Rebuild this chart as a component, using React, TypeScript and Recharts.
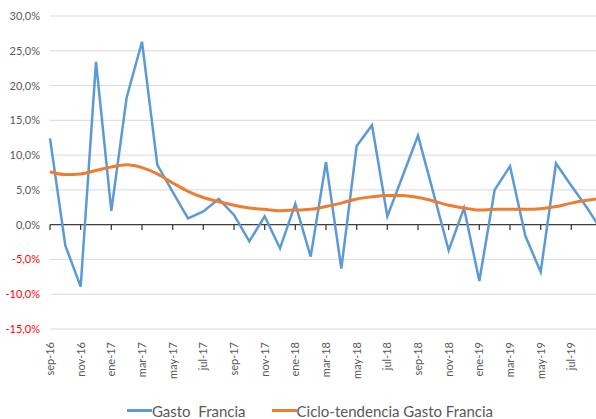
import {
  LineChart, Line, XAxis, YAxis, CartesianGrid, ReferenceLine, Legend,
} from 'recharts'

const months = [
  'sep-16', 'oct-16', 'nov-16', 'dic-16', 'ene-17', 'feb-17', 'mar-17', 'abr-17', 'may-17', 'jun-17', 'jul-17', 'ago-17',
  'sep-17', 'oct-17', 'nov-17', 'dic-17', 'ene-18', 'feb-18', 'mar-18', 'abr-18', 'may-18', 'jun-18', 'jul-18', 'ago-18',
  'sep-18', 'oct-18', 'nov-18', 'dic-18', 'ene-19', 'feb-19', 'mar-19', 'abr-19', 'may-19', 'jun-19', 'jul-19', 'ago-19',
  'sep-19',
]

const gasto = [
  12.4, -3.0, -8.9, 23.4, 2.0, 18.3, 26.3, 8.6, 4.7, 0.9, 1.9, 3.7,
  1.4, -2.4, 1.2, -3.4, 3.0, -4.6, 9.0, -6.3, 11.3, 14.3, 1.2, 7.0,
  12.8, 4.6, -3.7, 2.4, -8.1, 5.0, 8.4, -1.6, -6.8, 8.8, 5.6, 2.5,
  -0.9,
]

const ciclo = [
  7.6, 7.2, 7.3, 7.8, 8.3, 8.6, 8.2, 7.3, 6.0, 4.8, 3.9, 3.3,
  2.8, 2.4, 2.2, 2.0, 2.1, 2.2, 2.6, 3.1, 3.7, 4.0, 4.2, 4.2,
  3.9, 3.4, 2.8, 2.4, 2.1, 2.2, 2.2, 2.2, 2.3, 2.6, 3.1, 3.5,
  3.8,
]

const yTicks = [-15, -10, -5, 0, 5, 10, 15, 20, 25, 30]

const seriesNames = ['Gasto  Francia', 'Ciclo-tendencia Gasto Francia']
const seriesColors = ['#5b9bd5', '#ed7d31']

const data = months.map((m, i) => ({ m, gasto: gasto[i], ciclo: ciclo[i] }))

const FONT = 'Lato, "Liberation Sans", sans-serif'
const TEXT = '#595959'

const fmtPct = (v: number) => v.toFixed(1).replace('.', ',') + '%'

function YTick({ x, y, payload }: any) {
  return (
    <text x={x} y={y} dy={4} textAnchor="end" fontFamily={FONT} fontSize={11}
      fill={payload.value < 0 ? '#ff0000' : TEXT}>
      {fmtPct(payload.value)}
    </text>
  )
}

function XTick({ x, y, payload }: any) {
  // last month falls just outside the visible crop
  if (payload.value === months[months.length - 1]) return null
  const tx = x + 4
  const ty = y + 11
  return (
    <text x={tx} y={ty} transform={`rotate(-90, ${tx}, ${ty})`} textAnchor="end"
      fontFamily={FONT} fontSize={11} fill={TEXT}>
      {payload.value}
    </text>
  )
}

function LegendBox() {
  return (
    <div style={{ height: 30, paddingTop: 13, paddingLeft: 18, boxSizing: 'border-box', display: 'flex', justifyContent: 'center', gap: 26, fontFamily: FONT, fontSize: 15, color: TEXT }}>
      {seriesNames.map((name, i) => (
        <div key={name} style={{ display: 'flex', alignItems: 'center', lineHeight: '16px' }}>
          <span style={{ display: 'inline-block', width: 25, height: 3, background: seriesColors[i] }} />
          <span style={{ whiteSpace: 'pre' }}>{name}</span>
        </div>
      ))}
    </div>
  )
}

export default function App() {
  return (
    <div style={{ position: 'absolute', left: 0, top: 0, width: 596, height: 419, overflow: 'hidden', background: '#fff' }}>
      <LineChart width={612} height={419} data={data} margin={{ top: 16, right: 10, bottom: 0, left: 0 }}>
        <CartesianGrid horizontal vertical={false} stroke="#d9d9d9" strokeWidth={1} />
        <XAxis dataKey="m" interval={1} axisLine={false} tickLine={false} tickSize={0} height={60} tick={<XTick />} />
        <YAxis domain={[-15, 30]} ticks={yTicks} width={50} axisLine={false} tickLine={false} tickSize={0} tickMargin={10} tick={<YTick />} />
        <ReferenceLine y={0} stroke="#404040" strokeWidth={1.3} />
        {months.filter((_, i) => i % 2 === 0).map(m => (
          <ReferenceLine key={m} segment={[{ x: m, y: 0 }, { x: m, y: -0.75 }]} stroke="#404040" strokeWidth={1.3} />
        ))}
        <Legend verticalAlign="bottom" content={<LegendBox />} />
        <Line type="linear" dataKey="gasto" name={seriesNames[0]} stroke={seriesColors[0]} strokeWidth={2.5}
          dot={false} isAnimationActive={false} />
        <Line type="monotone" dataKey="ciclo" name={seriesNames[1]} stroke={seriesColors[1]} strokeWidth={3}
          dot={false} isAnimationActive={false} />
      </LineChart>
    </div>
  )
}
